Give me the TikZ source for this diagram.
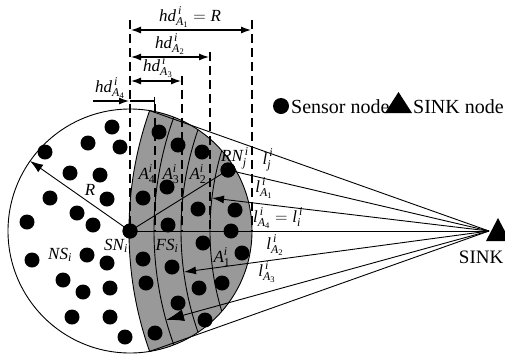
\documentclass[tikz,border=0pt]{standalone}
\usepackage{fontspec}
\setmainfont{Liberation Serif}
\usepackage{amsmath}
\usetikzlibrary{arrows.meta,calc}
\newcommand{\I}[1]{\textit{#1}}
\newcommand{\U}[1]{\textup{#1}}
\begin{document}
\begin{tikzpicture}[x=1pt,y=-1pt, font=\fontsize{17}{20}\selectfont,
  thinline/.style={line width=0.9pt},
  dashline/.style={line width=2.2pt, dash pattern=on 9pt off 5pt},
  dimarrow/.style={line width=1.2pt, {Latex[length=10pt,width=7pt]}-{Latex[length=10pt,width=7pt]}},
  dot/.style={circle, fill=black, inner sep=0pt, minimum size=15pt},
  lbl/.style={inner sep=0pt},
  bigtext/.style={font=\fontsize{20}{24}\selectfont}]
\useasboundingbox (0,0) rectangle (505,357);
% key points
\coordinate (C) at (130,231);
\coordinate (sink) at (489,231);
\coordinate (top) at (149.7,110.6);
\coordinate (bot) at (149.7,351.4);
\coordinate (t1) at (212,198);
\coordinate (t2) at (184,272);
\coordinate (t3) at (166,320);
\coordinate (Redge) at (30.1,161);
% gray field region with bands
\begin{scope}
  \clip (C) circle (122pt);
  \fill[black!40] (sink) circle (360pt);
  \draw[thinline] (sink) circle (360pt) (sink) circle (335pt) (sink) circle (308pt) (sink) circle (279pt);
\end{scope}
\draw[thinline] (C) circle (122pt);
% dashed guides
\draw[dashline] (130,20) -- (130,231);
\draw[dashline] (252,20) -- (252,231);
\draw[dashline] (210,52) -- (210,231);
\draw[dashline] (182,76) -- (182,231);
\draw[dashline] (155,104) -- (155,231);
% dimension arrows
\draw[dimarrow] (131,30) -- (251,30);
\draw[dimarrow] (131,57) -- (209,57);
\draw[dimarrow] (131,81) -- (181,81);
\draw[line width=1.2pt, -{Latex[length=10pt,width=7pt]}] (93,101) -- (129,101);
\draw[line width=1.2pt, -{Bar[width=9pt]}] (130,101) -- (155,101);
% named nodes
\node[dot] (SN) at (130,231) {};
\node[dot] (RN) at (228,170) {};
% connectors from sink
\draw[thinline] (sink) -- (top);
\draw[thinline] (sink) -- (RN.center);
\draw[thinline, -{Latex[length=12pt,width=8pt]}] (sink) -- (t1);
\draw[thinline] (sink) -- (SN.center);
\draw[thinline, -{Latex[length=12pt,width=8pt]}] (sink) -- (t2);
\draw[thinline, -{Latex[length=18pt,width=12pt]}] (sink) -- (t3);
\draw[thinline] (sink) -- (bot);
\draw[thinline] (SN.center) -- (RN.center);
\draw[thinline, -{Latex[length=13pt,width=9pt]}] (SN.center) -- (Redge);
% sensor dots
\foreach \p in {(112,127),(88,143),(120,147),(45,152),(70,173),(100,175),(50,198),(107,199),(77,213),(27,222),(93,225),(32,260),(87,255),(107,263),(63,280),(83,292),(110,288),(72,317),(110,317),(125,337),
(159,132),(178,145),(202,152),(167,187),(143,198),(198,209),(168,225),(235,210),(231,231),(203,243),(242,253),(143,259),(172,267),(146,283),(199,288),(222,283),(178,303),(205,320),(155,333)}
  \fill \p circle (7.5pt);
\node[dot] at (SN) {};
\node[dot] at (RN) {};
% labels
\node[lbl] (LhdA) at (190,17) {$\I{hd}^{\,\I{i}}_{\I{A}_{\U{1}}}=\I{R}$};
\node[lbl] (LhdB) at (170,44) {$\I{hd}^{\,\I{i}}_{\I{A}_{\U{2}}}$};
\node[lbl] (LhdC) at (158,67) {$\I{hd}^{\,\I{i}}_{\I{A}_{\U{3}}}$};
\node[lbl] (LhdD) at (110,88) {$\I{hd}^{\,\I{i}}_{\I{A}_{\U{4}}}$};
\node[lbl] (LR) at (90,190) {\I{R}};
\node[lbl] (LA4) at (147,174) {$\I{A}^{\I{i}}_{\U{4}}$};
\node[lbl] (LA3) at (171,174) {$\I{A}^{\I{i}}_{\U{3}}$};
\node[lbl] (LA2) at (198,174) {$\I{A}^{\I{i}}_{\U{2}}$};
\node[lbl] (LA1) at (222,257) {$\I{A}^{\I{i}}_{\U{1}}$};
\node[lbl] (LRN) at (235,158) {$\I{RN}^{\,\I{i}}_{\I{j}}$};
\node[lbl] (LFS) at (167,246) {$\I{FS}_{\I{i}}$};
\node[lbl] (LSN) at (116,246) {$\I{SN}_{\I{i}}$};
\node[lbl] (LNS) at (60,255) {$\I{NS}_{\I{i}}$};
\node[lbl] (Llj) at (268,160) {$\I{l}^{\,\I{i}}_{\I{j}}$};
\node[lbl] (LlA1) at (264,188) {$\I{l}^{\,\I{i}}_{\I{A}_{\U{1}}}$};
\node[lbl] (LlA4) at (278,218) {$\I{l}^{\,\I{i}}_{\I{A}_{\U{4}}}=\I{l}^{\,\I{i}}_{\I{i}}$};
\node[lbl] (LlA2) at (275,245) {$\I{l}^{\,\I{i}}_{\I{A}_{\U{2}}}$};
\node[lbl] (LlA3) at (267,272) {$\I{l}^{\,\I{i}}_{\I{A}_{\U{3}}}$};
% sink
\fill (486,241) -- (505,241) -- (505,231.4) -- (498,218) -- cycle;
\node[lbl, font=\fontsize{19}{22}\selectfont, anchor=base east] (Lsink) at (503.5,263) {SINK};
% legend
\node[dot, minimum size=16pt] (legdot) at (281,106) {};
\node[lbl, bigtext, anchor=base west] (legS) at (291,113) {Sensor node};
\fill (385,113) -- (412,113) -- (398.5,92) -- cycle;
\node[lbl, bigtext, anchor=base west] (legK) at (413,113) {SINK node};
\end{tikzpicture}
\end{document}
